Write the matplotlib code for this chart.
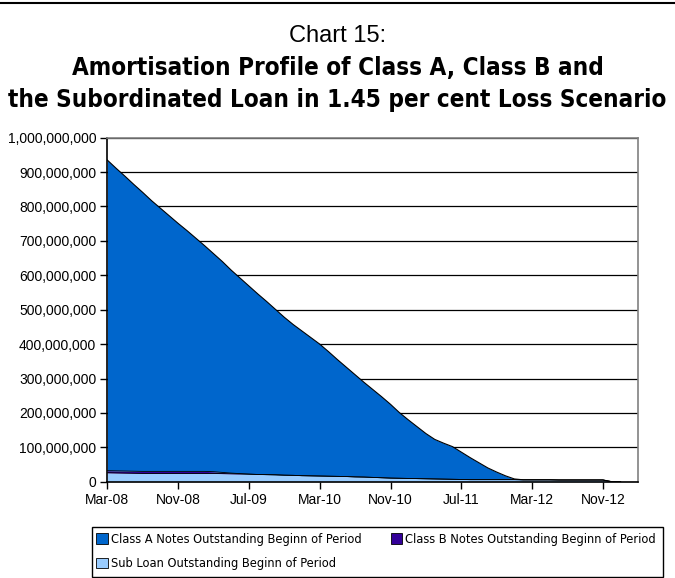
import matplotlib
matplotlib.use("Agg")
import matplotlib.pyplot as plt
import numpy as np
from matplotlib.lines import Line2D
from matplotlib.patches import Rectangle
from matplotlib.ticker import FuncFormatter

# months since Mar-08, one point per month (Mar-08 .. Jan-13)
months = list(range(0, 59))

# values, in millions
class_a = [903, 879.5, 857, 833.5, 811, 787, 765, 743, 721, 700,
           678, 656, 634, 613, 590, 568.5, 547, 525, 503.5, 481,
           459, 438.5, 420.5, 402, 383.5, 362, 339.5, 318, 297, 275.5,
           255.5, 235.5, 214.5, 191, 170.5, 151, 131.5, 115, 104.5, 95,
           79.5, 64, 49, 34, 22, 11, 2, 0, 0, 0,
           0, 0, 0, 0, 0, 0, 0, 0, 0]
class_b = [6, 6, 6, 6, 6, 6, 6, 6, 6, 6,
           6, 6, 5, 3.5, 2, 1, 0, 0, 0, 0,
           0, 0, 0, 0, 0, 0, 0, 0, 0, 0,
           0, 0, 0, 0, 0, 0, 0, 0, 0, 0,
           0, 0, 0, 0, 0, 0, 0, 0, 0, 0,
           0, 0, 0, 0, 0, 0, 0, 0, 0]
sub_loan = [26, 25.5, 25, 24.5, 24, 24, 24, 24, 24, 24,
            24, 24, 24, 23.5, 23, 22.5, 22, 21, 20.5, 20,
            19, 18.5, 17.5, 17, 16.5, 16, 15.5, 15, 14, 13.5,
            12.5, 11.5, 10.5, 10, 9.5, 9, 8.5, 8, 7.5, 7,
            6.5, 6, 6, 6, 6, 6, 6, 5.5, 5.5, 5.5,
            5.5, 5, 5, 5, 5, 5, 5, 0, 0]

tick_months = [0, 8, 16, 24, 32, 40, 48, 56]
tick_labels = ["Mar-08", "Nov-08", "Jul-09", "Mar-10", "Nov-10", "Jul-11", "Mar-12", "Nov-12"]

labels = ["Class A Notes Outstanding Beginn of Period",
          "Class B Notes Outstanding Beginn of Period",
          "Sub Loan Outstanding Beginn of Period"]
colors = ["#0066CC", "#330099", "#99CCFF"]

x = np.array(months)
a = np.array(class_a) * 1e6
b = np.array(class_b) * 1e6
s = np.array(sub_loan) * 1e6

W, H = 675, 578
fig = plt.figure(figsize=(6.75, 5.78), dpi=100)
ax = fig.add_axes([107.3 / W, 1 - 481.7 / H, 531 / W, 344 / H])

# stacked areas: sub loan at bottom, then class B, then class A
ax.fill_between(x, 0, s, color=colors[2], linewidth=0)
ax.fill_between(x, s, s + b, color=colors[1], linewidth=0)
ax.fill_between(x, s + b, s + b + a, color=colors[0], linewidth=0)
ax.plot(x, s, color="black", lw=0.6)
ax.plot(x, s + b, color="black", lw=0.6)
ax.plot(x, s + b + a, color="black", lw=0.8)

ax.set_xlim(0, 60)
ax.set_ylim(0, 1e9)
ax.set_yticks(np.arange(0, 1.01e9, 1e8))
ax.yaxis.set_major_formatter(FuncFormatter(lambda v, p: f"{int(round(v)):,}"))
ax.set_xticks(tick_months)
ax.set_xticklabels(tick_labels)
ax.grid(axis="y", color="black", lw=0.9)
ax.set_axisbelow(True)

ax.tick_params(axis="both", direction="out", length=5, width=1, colors="black",
               labelsize=10, pad=3)
for lab in ax.get_xticklabels() + ax.get_yticklabels():
    lab.set_fontfamily(["Liberation Sans", "DejaVu Sans"])
for side in ["left", "bottom"]:
    ax.spines[side].set_color("black")
    ax.spines[side].set_linewidth(1.2)
for side in ["top", "right"]:
    ax.spines[side].set_color("#808080")
    ax.spines[side].set_linewidth(1.2)

# titles
fig.text(0.5, 0.938, "Chart 15:", ha="center", va="center", fontsize=17,
         family=["Liberation Sans", "DejaVu Sans"])
fig.text(0.5, 0.883, "Amortisation Profile of Class A, Class B and", ha="center", va="center",
         fontsize=17.4, fontweight="bold", fontstretch="condensed", family="DejaVu Sans")
fig.text(0.5, 0.827, "the Subordinated Loan in 1.45 per cent Loss Scenario", ha="center", va="center",
         fontsize=17.4, fontweight="bold", fontstretch="condensed", family="DejaVu Sans")

# top rule
fig.add_artist(Line2D([0, 1], [0.995, 0.995], transform=fig.transFigure, color="black", lw=1.5))

# legend box
fig.add_artist(Rectangle((92 / W, 1 - 577 / H), 571 / W, 50 / H, transform=fig.transFigure,
                         facecolor="white", edgecolor="black", lw=1.0, zorder=0))

# legend, row-major order A, B / Sub
handles = [Rectangle((0, 0), 1, 1, facecolor=c, edgecolor="black", lw=0.6) for c in colors]
leg = fig.legend([handles[0], handles[2], handles[1]], [labels[0], labels[2], labels[1]],
                 ncol=2, loc="upper left", bbox_to_anchor=(96 / W, 1 - 533 / H),
                 frameon=False,
                 prop={"family": "DejaVu Sans", "stretch": "condensed", "size": 9.2},
                 handlelength=0.9, handleheight=0.9, handletextpad=0.25, borderpad=0,
                 labelspacing=0.9, columnspacing=2.3, borderaxespad=0)

fig.savefig("out.png", dpi=100)
